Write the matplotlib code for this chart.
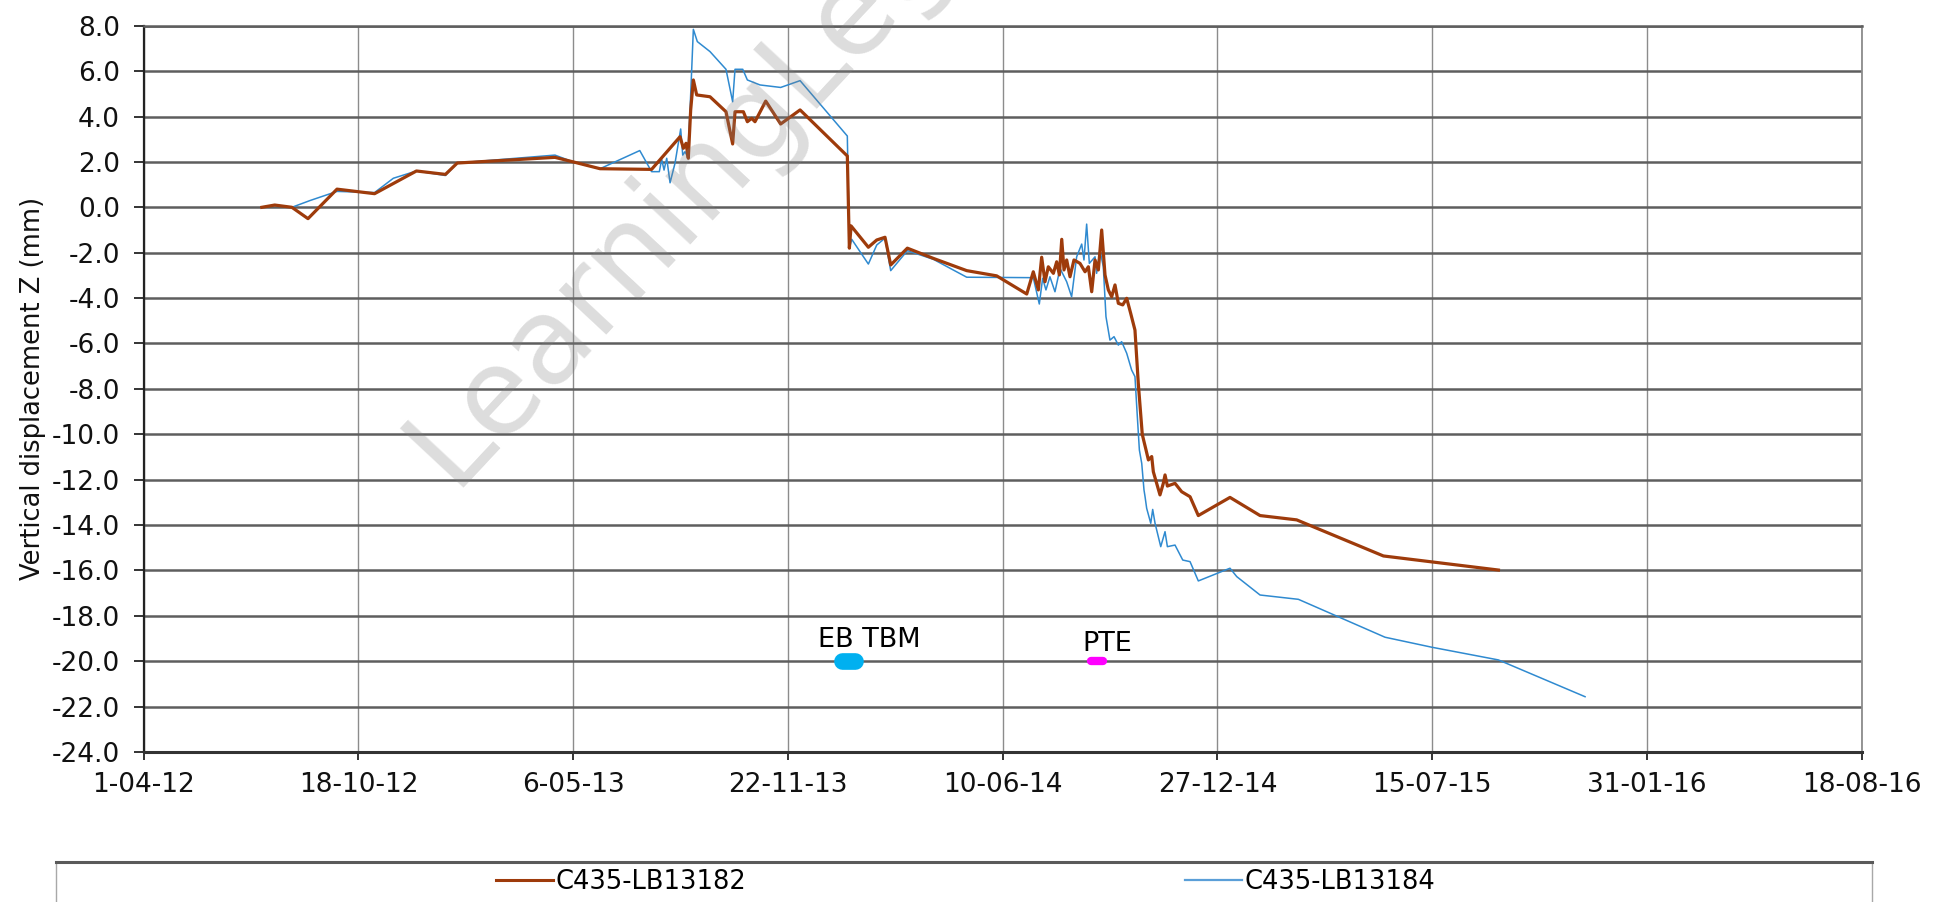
import numpy as np
import pandas as pd
import matplotlib
matplotlib.use('Agg')
import matplotlib.pyplot as plt
from matplotlib.patches import Rectangle
from matplotlib.lines import Line2D

plt.rcParams['font.family'] = ['DejaVu Sans']

# survey dates are kept as days after 1-04-12
start = pd.Timestamp('2012-04-01')

days_182 = [110, 122, 138, 153, 180, 215, 254, 281, 292, 383, 400, 425, 473,
            499.5, 502.6, 505.1, 507.2, 509.4, 511.9, 515, 527.4, 542.3, 548.5,
            550.7, 558.5, 562.2, 566.2, 569.3, 579.3, 593.2, 611.3, 655.3, 657.2,
            658.8, 674.9, 682.7, 690.4, 695.7, 711.2, 735.4, 766.5, 794.4, 822.4,
            828.5, 833.2, 836.3, 839.4, 842.5, 847.2, 850.3, 852.8, 855, 857.1,
            859.6, 862.7, 866.4, 872, 876.7, 879.8, 882.9, 886, 889.1, 892.2,
            895.3, 898.4, 901.5, 904.6, 907.7, 911.8, 915.5, 919.2, 923.2, 926.3,
            930, 931.5, 933.5, 935.7, 938.8, 940.3, 946.5, 949.6, 951.2, 953.4,
            960.5, 966.7, 974.5, 982.2, 1011.7, 1039.7, 1073.8, 1154.6, 1261.7]
z_182 = [0.0, 0.1, 0.0, -0.5, 0.8, 0.6, 1.6, 1.45, 1.95, 2.2, 2.0, 1.7, 1.67,
         3.11, 2.60, 2.82, 2.16, 4.28, 5.61, 4.95, 4.87, 4.21, 2.79,
         4.21, 4.21, 3.77, 3.92, 3.77, 4.68, 3.67, 4.29, 2.26, -1.80,
         -0.82, -1.76, -1.44, -1.32, -2.54, -1.80, -2.25, -2.79, -3.02, -3.82,
         -2.84, -3.64, -2.20, -3.28, -2.62, -2.91, -2.40, -2.98, -1.41, -2.76,
         -2.32, -3.06, -2.32, -2.47, -2.84, -2.62, -3.72, -2.32, -2.76, -1.00,
         -2.98, -3.64, -3.94, -3.42, -4.23, -4.30, -4.01, -4.67, -5.41, -7.76,
         -10.0, -10.3, -10.69, -11.13, -10.98, -11.65, -12.67, -12.16, -11.79, -12.28,
         -12.16, -12.53, -12.75, -13.58, -12.78, -13.58, -13.77, -15.36, -15.98]

days_184 = [110, 122, 138, 155, 180, 215, 232.5, 254, 281, 292, 383, 400, 425,
            462, 473, 480.2, 482.4, 484.6, 487.1, 490.2, 494.8, 500.1, 502,
            504.1, 506.6, 508.8, 511.9, 515.6, 527.4, 542.3, 548.5, 550.7, 557.9,
            562.2, 574, 593.2, 611.3, 655.3, 657.2, 659.4, 674.9, 682.7, 690.4,
            695.7, 711.2, 735.4, 766.5, 828.5, 834.1, 837.2, 840.3, 844, 848.7,
            853.4, 859.6, 864.2, 868.9, 873.6, 875.7, 878.2, 880.7, 886, 887.5,
            890.6, 893.7, 896.2, 899.9, 903.7, 907.7, 910.8, 915.5, 920.1, 923.2,
            925.4, 927.3, 929.5, 931.6, 932.6, 934.1, 937.9, 939.7, 941.9, 947.2,
            951.2, 953.4, 960.5, 967.7, 974.5, 982.2, 1011.7, 1018, 1039.7, 1075.4,
            1156.1, 1199.6, 1261.7, 1342.4]
z_184 = [0.0, 0.1, 0.0, 0.3, 0.7, 0.65, 1.28, 1.6, 1.4, 1.95, 2.3, 2.0, 1.7,
         2.5, 1.57, 1.57, 2.11, 1.64, 2.16, 1.08, 1.94, 3.45, 2.30,
         2.45, 2.23, 4.28, 7.84, 7.30, 6.86, 6.08, 4.65, 6.08, 6.08,
         5.61, 5.39, 5.28, 5.58, 3.14, -1.81, -1.41, -2.50, -1.66, -1.36,
         -2.79, -1.91, -2.29, -3.08, -3.10, -4.26, -3.13, -3.64, -3.06, -3.72,
         -2.69, -3.28, -3.94, -2.18, -1.62, -2.32, -0.74, -2.47, -2.18, -2.91,
         -1.88, -2.62, -4.82, -5.85, -5.70, -6.07, -5.92, -6.43, -7.17, -7.46,
         -9.22, -10.69, -11.28, -12.45, -12.75, -13.26, -13.92, -13.31, -13.92, -14.95,
         -14.29, -14.95, -14.88, -15.54, -15.61, -16.46, -15.90, -16.27, -17.08, -17.27,
         -18.94, -19.38, -19.94, -21.56]

# event markers
eb_tbm_days = [650, 662]
eb_tbm_z = [-20, -20]
pte_days = [882, 893]
pte_z = [-20, -20]

tick_dates = ['2012-04-01', '2012-10-18', '2013-05-06', '2013-11-22', '2014-06-10',
              '2014-12-27', '2015-07-15', '2016-01-31', '2016-08-18']
y_ticks = np.arange(-24, 9, 2)


def to_dates(days):
    return start + pd.to_timedelta(days, unit='D')


fig = plt.figure(figsize=(19.37, 9.02), dpi=100)
ax = fig.add_axes([0.0742, 0.1662, 0.8869, 0.8053])

ax.plot(to_dates(days_182), z_182, color='#9e3b0b', lw=2.3, zorder=4)
ax.plot(to_dates(days_184), z_184, color='#2f8ad0', lw=1.1, zorder=3)

ax.plot(to_dates(eb_tbm_days), eb_tbm_z, color='#00b0f0', lw=12,
        solid_capstyle='round', zorder=5)
ax.plot(to_dates(pte_days), pte_z, color='#ff00ff', lw=6,
        solid_capstyle='round', zorder=5)
ax.text(to_dates([628])[0], -19.37, 'EB TBM', fontsize=19.5, ha='left', va='baseline')
ax.text(to_dates([874])[0], -19.55, 'PTE', fontsize=19.5, ha='left', va='baseline')

tick_ts = pd.to_datetime(tick_dates)
ax.set_xlim(tick_ts[0], tick_ts[-1])
ax.set_ylim(-24, 8)
ax.set_xticks(tick_ts)
ax.set_xticklabels([f"{d.day}-{d:%m-%y}" for d in tick_ts])
ax.set_yticks(y_ticks)
ax.set_yticklabels([f"{v:.1f}" for v in y_ticks])

ax.tick_params(axis='x', labelsize=19, length=6, width=1.2, pad=8, colors='#111111')
ax.tick_params(axis='y', labelsize=19, length=7, width=1.2, pad=10, colors='#111111')

ax.yaxis.grid(True, color='#5e5e5e', lw=1.8)
ax.xaxis.grid(True, color='#8c8c8c', lw=1.0)
ax.set_axisbelow(True)
ax.spines['left'].set_color('#222222')
ax.spines['left'].set_linewidth(1.6)
ax.spines['bottom'].set_color('#333333')
ax.spines['bottom'].set_linewidth(2.2)
ax.spines['top'].set_color('#5e5e5e')
ax.spines['top'].set_linewidth(1.8)
ax.spines['right'].set_color('#8c8c8c')
ax.spines['right'].set_linewidth(1.3)

ax.set_ylabel('Vertical displacement Z (mm)', fontsize=18.5, color='#111111')
ax.yaxis.set_label_coords(-0.057, 0.5)

# legend box along the bottom, cut by the page edge
box = Rectangle((55.6 / 1937, -0.05), 1815.9 / 1937, 0.05 + 40.3 / 902,
                transform=fig.transFigure, facecolor='white', edgecolor='#a8a8a8',
                lw=1.0, zorder=1)
fig.patches.append(box)
fig.lines.append(Line2D([55.6 / 1937, 1871.5 / 1937], [1 - 861.7 / 902] * 2,
                        transform=fig.transFigure, color='#5a5a5a', lw=2.2))

handles = [Line2D([], [], color='#9e3b0b', lw=2.2),
           Line2D([], [], color='#5a9fd8', lw=1.6)]
fig.legend(handles, ['C435-LB13182', 'C435-LB13184'], loc='center',
           bbox_to_anchor=(0.4985, 1 - 881.7 / 902), ncol=2, frameon=False,
           fontsize=18.5, handlelength=2.2, handletextpad=0.1, columnspacing=17.1)

# watermark
fig.text(452 / 1937, 1 - 488 / 902, 'LearningLegacy', fontsize=86, rotation=47,
         rotation_mode='anchor', ha='left', va='baseline', color='#808080',
         alpha=0.27, zorder=10)

fig.savefig('out.png', dpi=100)
